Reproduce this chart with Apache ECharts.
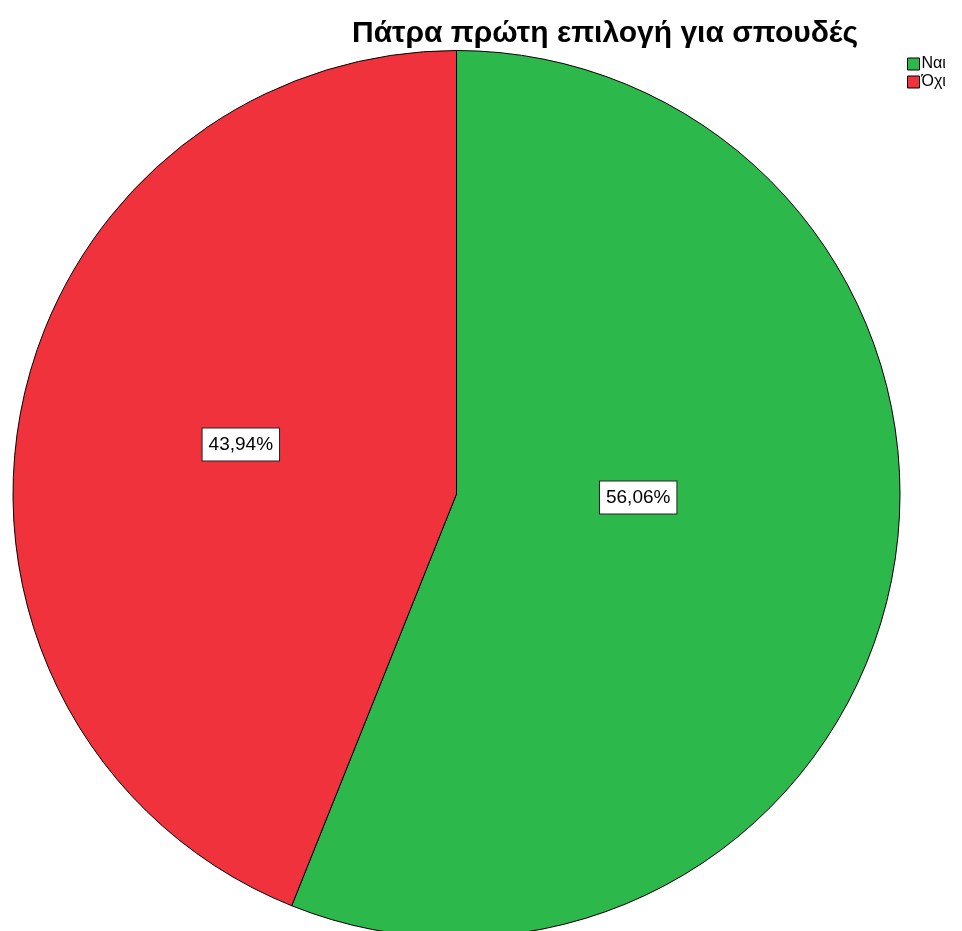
<!DOCTYPE html>
<html>
<head>
<meta charset="utf-8">
<script src="https://cdn.jsdelivr.net/npm/echarts@6/dist/echarts.min.js"></script>
<style>
  html, body { margin: 0; padding: 0; background: #ffffff; }
  #chart { width: 962px; height: 931px; }
</style>
</head>
<body>
<div id="chart"></div>
<script>
// Answers to "is Patras the first choice for studies" (percent of respondents)
const categories = ['Ναι', 'Όχι'];
const shares = [56.06, 43.94];
const colors = ['#2db84b', '#ef323c'];
const titleText = 'Πάτρα πρώτη επιλογή για σπουδές';

const chart = echarts.init(document.getElementById('chart'), null, { renderer: 'canvas' });

const fmt = v => v.toFixed(2).replace('.', ',') + '%';

chart.setOption({
  animation: false,
  backgroundColor: '#ffffff',
  title: {
    text: titleText,
    left: 600,
    top: 14,
    textAlign: 'center',
    textStyle: {
      fontFamily: 'Liberation Sans, Arial, sans-serif',
      fontWeight: 'bold',
      fontSize: 30,
      color: '#000000'
    }
  },
  legend: {
    orient: 'vertical',
    left: 902,
    top: 51,
    itemWidth: 12,
    itemHeight: 12,
    itemGap: 2,
    icon: 'rect',
    textStyle: {
      fontFamily: 'Liberation Sans, Arial, sans-serif',
      fontSize: 16,
      color: '#000000',
      padding: [0, 0, 0, -3]
    },
    itemStyle: { borderColor: '#000000', borderWidth: 1 },
    data: categories
  },
  series: [{
    type: 'pie',
    center: [456.5, 494],
    radius: 443.5,
    startAngle: 90,
    clockwise: true,
    avoidLabelOverlap: false,
    itemStyle: { borderColor: '#000000', borderWidth: 1 },
    label: {
      show: true,
      position: 'inside',
      formatter: p => fmt(p.value),
      fontFamily: 'Liberation Sans, Arial, sans-serif',
      fontSize: 19,
      color: '#000000',
      backgroundColor: '#ffffff',
      borderColor: '#222222',
      borderWidth: 1,
      padding: [7, 6, 6, 6]
    },
    labelLayout: function (params) {
      // nudge the larger slice's label toward the centre
      if (params.dataIndex === 0) return { dx: -39, dy: -39 };
      return { dx: 5, dy: -7 };
    },
    labelLine: { show: false },
    emphasis: { disabled: true },
    data: categories.map((name, i) => ({
      name: name,
      value: shares[i],
      itemStyle: { color: colors[i] }
    }))
  }]
});
</script>
</body>
</html>
